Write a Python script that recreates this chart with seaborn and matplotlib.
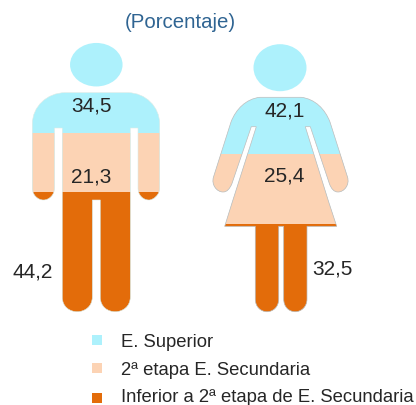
import numpy as np
import matplotlib
matplotlib.use("Agg")
import matplotlib.pyplot as plt
from matplotlib.path import Path
from matplotlib.patches import PathPatch, Ellipse, Rectangle
import seaborn as sns
import pandas as pd

groups = ["Hombres", "Mujeres"]
superior = [34.5, 42.1]
segunda = [21.3, 25.4]
inferior = [44.2, 32.5]
labels = ["E. Superior", "2ª etapa E. Secundaria", "Inferior a 2ª etapa de E. Secundaria"]
colors = ["#ADF1FC", "#FCD3B4", "#E36C0A"]
subtitle = "(Porcentaje)"

W, H = 416, 406
sns.set_theme(style="white")
plt.rcParams["font.family"] = ["Liberation Sans", "DejaVu Sans"]
fig = plt.figure(figsize=(W / 100, H / 100), dpi=100, facecolor="white")

# pixel canvas for silhouettes and text
px = fig.add_axes([0, 0, 1, 1])
px.set_xlim(0, W); px.set_ylim(H, 0); px.axis("off")

# percent axis: the full figure height of 100 % spans the drawn people
top, bottom = 38.5, 315.5
bar_ax = fig.add_axes([0, 1 - bottom / H, 1, (bottom - top) / H])
bar_ax.patch.set_alpha(0)


def build(verts_codes):
    v, c = zip(*verts_codes)
    return Path(v, c)


M, L, C, Z = Path.MOVETO, Path.LINETO, Path.CURVE4, Path.CLOSEPOLY


def man_path():
    k = 0.55
    s = [
        ((65, 93.7), M), ((128, 93.7), L),
        ((128 + 31.7 * k, 93.7), C), ((159.7, 125 - 31.3 * k), C), ((159.7, 125), C),
        ((159.7, 189), L),
        ((159.7, 196), C), ((153, 201), C), ((149, 201), C),
        ((143, 201), C), ((138, 196), C), ((138, 189), C),
        ((138, 129), L), ((130.3, 129), L), ((130.3, 298), L),
        ((130.3, 308), C), ((122, 312.7), C), ((115.3, 312.7), C),
        ((108, 312.7), C), ((100.3, 308), C), ((100.3, 298), C),
        ((100.3, 201), L), ((92.3, 201), L), ((92.3, 298), L),
        ((92.3, 308), C), ((84, 312.7), C), ((77.3, 312.7), C),
        ((70, 312.7), C), ((62.3, 308), C), ((62.3, 298), C),
        ((62.3, 129), L), ((54.5, 129), L), ((54.5, 189), L),
        ((54.5, 196), C), ((49, 201), C), ((43.4, 201), C),
        ((38, 201), C), ((32.3, 196), C), ((32.3, 189), C),
        ((32.3, 125), L),
        ((32.3, 125 - 31.3 * k), C), ((65 - 32.7 * k, 93.7), C), ((65, 93.7), C),
        ((65, 93.7), Z),
    ]
    return build(s)


def woman_path():
    s = [
        ((259.7, 98.3), M), ((301.3, 98.3), L),
        ((315, 100), C), ((325, 110), C), ((330, 123), C),
        ((347.5, 178), L),
        ((350, 186), C), ((344, 193), C), ((338, 193), C),
        ((334, 193), C), ((331.5, 190), C), ((329.5, 185), C),
        ((310.3, 127.7), L), ((305.3, 127.7), L), ((328.7, 203), L),
        ((336.7, 227.3), L), ((307, 227.3), L), ((307, 300), L),
        ((307, 308), C), ((301, 312.7), C), ((295.3, 312.7), C),
        ((289, 312.7), C), ((283.7, 308), C), ((283.7, 300), C),
        ((283.7, 227.3), L), ((278.7, 227.3), L), ((278.7, 300), L),
        ((278.7, 308), C), ((273, 312.7), C), ((267, 312.7), C),
        ((261, 312.7), C), ((255.3, 308), C), ((255.3, 300), C),
        ((255.3, 227.3), L), ((224.7, 227.3), L), ((232.3, 203), L),
        ((256.3, 127.7), L), ((251.3, 127.7), L), ((231.8, 185), L),
        ((229.5, 190), C), ((227, 193), C), ((223, 193), C),
        ((217, 193), C), ((211, 186), C), ((213.5, 178), C),
        ((231, 123), L),
        ((236, 110), C), ((246, 100), C), ((259.7, 98.3), C),
        ((259.7, 98.3), Z),
    ]
    return build(s)


man_head = Ellipse((0, 0), 2, 2).get_path()
man_head = Path(man_head.vertices * [26.25, 21.75] + [96.3, 65.7], man_head.codes)
woman_head = Ellipse((0, 0), 2, 2).get_path()
woman_head = Path(woman_head.vertices * [26.5, 23.5] + [280, 68.7], woman_head.codes)

shapes = [Path.make_compound_path(man_head, man_path()),
          Path.make_compound_path(woman_head, woman_path())]

# stacked bars, painted as cumulative totals, clipped to each silhouette
low = np.array(inferior)
mid = low + np.array(segunda)
full = mid + np.array(superior)
for cum, col in zip([full, mid, low], colors):
    df = pd.DataFrame({"grupo": groups, "valor": cum})
    n0 = len(bar_ax.patches)
    sns.barplot(data=df, x="grupo", y="valor", color=col, width=1.0, saturation=1,
                linewidth=0, ax=bar_ax)
    for patch, shape in zip(bar_ax.patches[n0:], shapes):
        patch.set_clip_path(shape, px.transData)
bar_ax.set_xlim(-0.5, 1.5)
bar_ax.set_ylim(0, 100)
bar_ax.axis("off")

# faint silhouette outlines
ov = fig.add_axes([0, 0, 1, 1]); ov.set_xlim(0, W); ov.set_ylim(H, 0); ov.axis("off"); ov.patch.set_alpha(0)
ov.add_patch(PathPatch(man_path(), fc="none", ec="#DCEBE6", lw=0.4))
ov.add_patch(PathPatch(woman_path(), fc="none", ec="#BDBDBD", lw=0.5))

txt = "#262626"
fs = 15
for g, (xs, ys) in enumerate([((91.5, 91.5, 33), (106.3, 177.3, 272.5)),
                              ((284.5, 284.5, 332), (111.3, 176.3, 269.5))]):
    ov.text(xs[0], ys[0], f"{superior[g]:.1f}".replace(".", ","), ha="center", va="center", fontsize=fs, color=txt)
    ov.text(xs[1], ys[1], f"{segunda[g]:.1f}".replace(".", ","), ha="center", va="center", fontsize=fs, color=txt)
    ov.text(xs[2], ys[2], f"{inferior[g]:.1f}".replace(".", ","), ha="center", va="center", fontsize=fs, color=txt)

ov.text(180, 23, subtitle, ha="center", va="center", fontsize=14.7, color="#2F6492")

# legend
for col, lab, y, dy in zip(colors, labels, [341, 369, 399], [1.5, 1.5, -1]):
    ov.add_patch(Rectangle((92, y - 5), 10, 10, fc=col, ec="none"))
    ov.text(121, y + dy, lab, ha="left", va="center", fontsize=13.3, color=txt)

fig.savefig("out.png", dpi=100, facecolor="white")
